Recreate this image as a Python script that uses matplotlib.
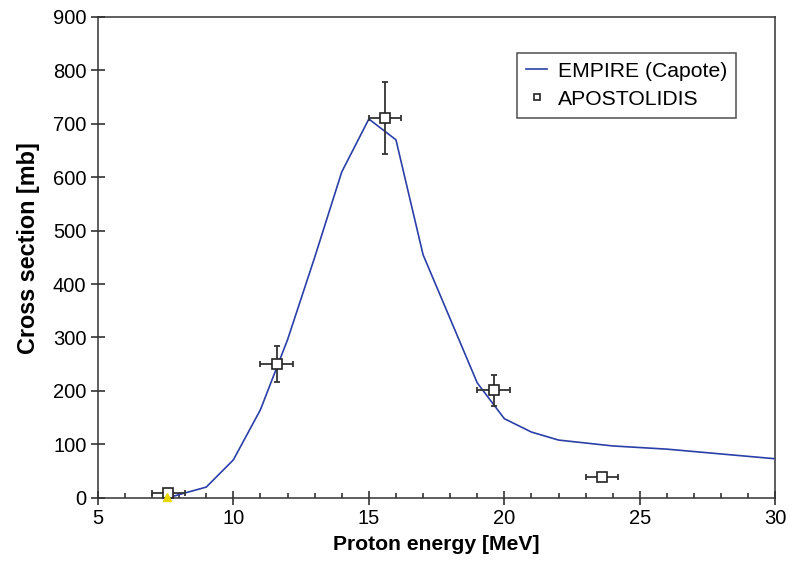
import matplotlib
matplotlib.use("Agg")
from matplotlib import pyplot as plt
from matplotlib.ticker import MultipleLocator

plt.rcParams['font.family'] = ['Liberation Sans', 'DejaVu Sans']

# EMPIRE (Capote) calculation
e_calc = [7.6, 8, 9, 10, 11, 12, 13, 14, 15, 16, 17, 18, 19, 20, 21, 22, 24, 26, 30]
xs_calc = [0, 6, 20, 71, 165, 296, 450, 610, 709, 670, 455, 335, 215, 148, 123, 108, 97, 91, 73]

# APOSTOLIDIS data
e_exp = [7.6, 11.6, 15.6, 19.6, 23.6]
xs_exp = [8, 251, 711, 201, 39]
e_err = [0.6, 0.6, 0.6, 0.6, 0.6]
xs_err = [3, 34, 67, 29, 4]

fig = plt.figure(figsize=(7.96, 5.65), dpi=100)
ax = fig.add_axes([0.123, 0.119, 0.851, 0.851])

ax.plot(e_calc, xs_calc, color='#2b3fa8', linewidth=1.2, label='EMPIRE (Capote)', zorder=3)
ax.errorbar(e_exp, xs_exp, xerr=e_err, yerr=xs_err, fmt='none', ecolor='#333333',
            elinewidth=1.3, capsize=2.5, capthick=1.3, zorder=4)
ax.plot(e_exp, xs_exp, 's', markersize=6.5, markerfacecolor='white',
        markeredgecolor='#222222', markeredgewidth=1.2, linestyle='none',
        label='APOSTOLIDIS', zorder=5)
ax.plot([7.55], [1], '^', color='#e8d800', markersize=5.5, zorder=6, clip_on=False)

ax.set_xlim(5, 30)
ax.set_ylim(0, 900)
ax.xaxis.set_major_locator(MultipleLocator(5))
ax.xaxis.set_minor_locator(MultipleLocator(1))
ax.yaxis.set_major_locator(MultipleLocator(100))
ax.tick_params(axis='both', which='major', direction='inout', length=9.5, width=1.1,
               labelsize=14.5, color='#222222')
ax.tick_params(axis='x', which='minor', direction='in', length=3.8, width=1.1, color='#222222')
for s in ax.spines.values():
    s.set_color('#333333')
    s.set_linewidth(1.1)

ax.set_xlabel('Proton energy [MeV]', fontsize=15.2, fontweight='bold', labelpad=5)
ax.set_ylabel('Cross section [mb]', fontsize=16.8, fontweight='bold')
ax.yaxis.set_label_coords(-0.085, 0.52)

leg = ax.legend(loc='upper right', bbox_to_anchor=(0.942, 0.925), fontsize=15.2,
                frameon=True, fancybox=False, handlelength=1.0, handletextpad=0.5,
                borderpad=0.42, labelspacing=0.42, markerscale=0.6, borderaxespad=0)
leg.get_frame().set_edgecolor('#222222')
leg.get_frame().set_linewidth(1.1)

fig.savefig('out.png', dpi=100)
